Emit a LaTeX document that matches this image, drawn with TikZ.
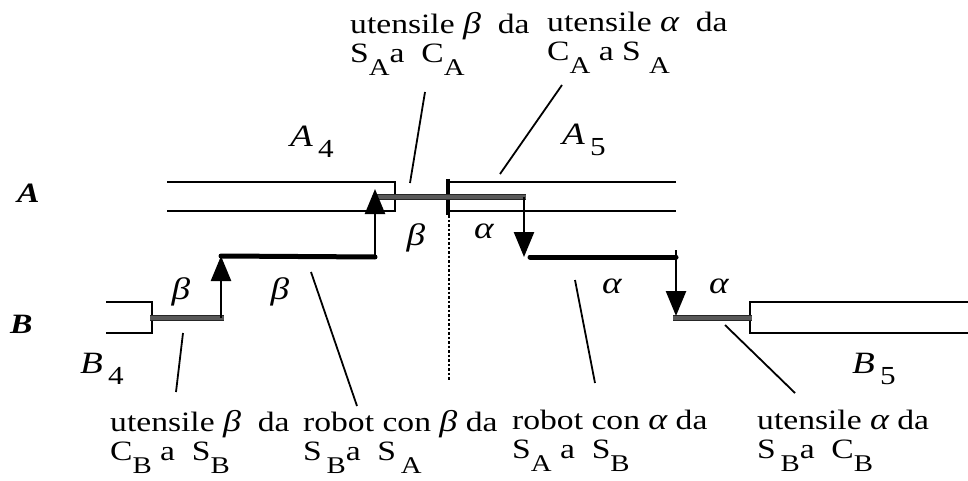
\documentclass[tikz,border=0pt]{standalone}
\usepackage{fontspec}
\setmainfont{Liberation Serif}[FakeStretch=1.2]
\usetikzlibrary{arrows.meta,positioning}
\newcommand\lo[1]{\raisebox{-13pt}{\fontsize{24}{24}\selectfont #1}}
\newcommand\idx[1]{\,\raisebox{-11pt}{\fontsize{26}{26}\selectfont #1}}
\newcommand\gk[1]{{\fontsize{30}{28}\selectfont\itshape #1}}

\tikzset{
  track/.style={line width=2.5pt},
  hatchbar/.style={draw=black!85, line width=1pt, double=black!65, double distance=4pt},
  carry/.style={line width=5pt, line cap=round},
  lift/.style={line width=2.5pt, -{Triangle[width=20pt,length=25pt]}},
  leader/.style={line width=1.8pt},
  note/.style={align=left, anchor=north west, inner sep=0pt},
  sym/.style={inner sep=0pt, font=\fontsize{31}{31}\selectfont\itshape},
  rowname/.style={inner sep=0pt, anchor=base west, font=\fontsize{28}{28}\selectfont\bfseries\itshape},
  station/.style={inner sep=0pt, anchor=base west, font=\fontsize{31}{31}\selectfont},
}

\begin{document}
\begin{tikzpicture}[x=1pt, y=-1pt, font=\fontsize{28}{29}\selectfont]
\useasboundingbox (0,0) rectangle (968,481);

% row and station names
\node[rowname] (rowA) at (17,202) {A};
\node[rowname] (rowB) at (10,333) {B};
\node[station] (stA4) at (290,147) {\textit{A}\idx{4}};
\node[station] (stA5) at (562,145) {\textit{A}\idx{5}};
\node[station] (stB4) at (80,373) {\textit{B}\idx{4}};
\node[station] (stB5) at (852,373) {\textit{B}\idx{5}};

% tracks
\draw[track] (167,182) -| (395,211) -- (167,211);
\draw[track] (676,182) -- (449,182) (449,211) -- (676,211);
\draw[line width=4pt] (448,179) -- (448,215);
\draw[track] (106,302) -| (152,333) -- (106,333);
\draw[track] (968,302) -| (750,333) -- (968,333);
\draw[line width=2.5pt, dash pattern=on 2.5pt off 2pt] (449,215) -- (449,380);

% tool exchange bars
\draw[hatchbar] (376,197) -- (526,197);
\draw[hatchbar] (150,318) -- (224,318);
\draw[hatchbar] (673,318) -- (752,318);

% robot moves
\coordinate (b0) at (221,318);
\coordinate (b1) at (221,256);
\coordinate (b2) at (375,257);
\coordinate (b3) at (375,189);
\coordinate (a0) at (524,197);
\coordinate (a1) at (524,257);
\coordinate (a2) at (530,257);
\coordinate (a3) at (676,257);
\coordinate (a4) at (676,250);
\coordinate (a5) at (676,316);
\draw[lift] (b0) -- (b1);
\draw[carry] (b1) -- (b2);
\draw[lift] (b2) -- (b3);
\draw[lift] (a0) -- (a1);
\draw[carry] (a2) -- (a3);
\draw[lift] (a4) -- (a5);

\node[sym] (gb1) at (181,292) {β};
\node[sym] (gb2) at (280,292) {β};
\node[sym] (gb3) at (416,238) {β};
\node[sym] (ga1) at (484,231) {α};
\node[sym] (ga2) at (612,286) {α};
\node[sym] (ga3) at (719,286) {α};

% notes
\node[note] (nt1) at (350,12) {utensile \gk{β}\ \ da\\S\lo{A}a\ \ C\lo{A}};
\node[note] (nt2) at (547,12) {utensile \gk{α}\ \ da\\C\lo{A} a S\ \lo{A}};
\node[note] (nb1) at (110,410) {utensile \gk{β}\ \ da\\C\lo{B} a\ \ S\lo{B}};
\node[note] (nb2) at (303,410) {robot con \gk{β}\ da\\S\,\lo{B}a\ \ S\,\lo{A}};
\node[note] (nb3) at (512,410) {robot con \gk{α} da\\S\lo{A} a\ \ S\lo{B}};
\node[note] (nb4) at (757,410) {utensile \gk{α}\ da\\S\,\lo{B}a\ \ C\lo{B}};

% leaders
\coordinate (lt1) at (425,92);   \coordinate (lt1e) at (410,183);
\coordinate (lt2) at (562,85);   \coordinate (lt2e) at (500,174);
\coordinate (lb1) at (183,333);  \coordinate (lb1e) at (176,392);
\coordinate (lb2) at (311,272);  \coordinate (lb2e) at (357,406);
\coordinate (lb3) at (575,280);  \coordinate (lb3e) at (595,383);
\coordinate (lb4) at (725,325);  \coordinate (lb4e) at (795,393);
\draw[leader] (lt1) -- (lt1e);
\draw[leader] (lt2) -- (lt2e);
\draw[leader] (lb1) -- (lb1e);
\draw[leader] (lb2) -- (lb2e);
\draw[leader] (lb3) -- (lb3e);
\draw[leader] (lb4) -- (lb4e);
\end{tikzpicture}
\end{document}
